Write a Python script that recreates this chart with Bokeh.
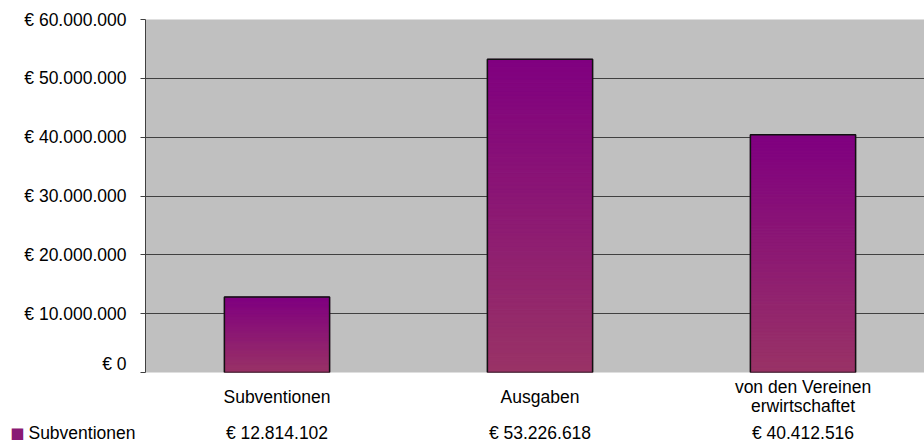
from bokeh.plotting import figure
from bokeh.models import ColumnDataSource, Range1d, FixedTicker, LinearAxis
from bokeh.layouts import column
from bokeh.core.properties import value
from bokeh.embed import file_html
from bokeh.resources import INLINE

# ---- data ----
categories = ["Subventionen", "Ausgaben", "von den Vereinen\nerwirtschaftet"]
values = [12814102, 53226618, 40412516]
series_name = "Subventionen"
y_ticks = [0, 10000000, 20000000, 30000000, 40000000, 50000000, 60000000]
y_tick_labels = ["€ 0", "€ 10.000.000", "€ 20.000.000", "€ 30.000.000",
                 "€ 40.000.000", "€ 50.000.000", "€ 60.000.000"]

FONT = "Liberation Sans"
FS = "17.5px"
TOP_RGB = (128, 0, 128)      # purple
BOT_RGB = (153, 51, 102)     # plum
KEY_COLOR = "#8a1a74"

def fmt_eur(v):
    return "€ " + f"{v:,}".replace(",", ".")

# layout (page pixels)
W = 924
FRAME_L, FRAME_T, FRAME_B = 145, 19, 372
CAT_W = 263
H1 = FRAME_B + 1
H2 = 443 - H1

xs = [i + 0.5 for i in range(len(categories))]

p = figure(width=W, height=H1, output_backend="svg", toolbar_location=None,
           x_range=Range1d(0, (W - FRAME_L) / CAT_W), y_range=Range1d(y_ticks[0], y_ticks[-1]),
           x_axis_location=None, min_border_left=FRAME_L, min_border_right=0,
           min_border_top=FRAME_T, min_border_bottom=1)
p.background_fill_color = "#C0C0C0"
p.border_fill_color = "white"
p.outline_line_color = None

# gradient bars built from thin slices
n = 80
sx, sb, st, sc = [], [], [], []
for x, v in zip(xs, values):
    for j in range(n):
        t = (j + 0.5) / n
        r = round(BOT_RGB[0] + (TOP_RGB[0] - BOT_RGB[0]) * t)
        g = round(BOT_RGB[1] + (TOP_RGB[1] - BOT_RGB[1]) * t)
        b = round(BOT_RGB[2] + (TOP_RGB[2] - BOT_RGB[2]) * t)
        sx.append(x)
        sb.append(v * j / n)
        st.append(v * (j + 1) / n)
        sc.append(f"#{r:02x}{g:02x}{b:02x}")
slices = ColumnDataSource(dict(x=sx, bottom=sb, top=st, color=sc))
p.vbar(x="x", bottom="bottom", top="top", width=0.4, source=slices,
       fill_color="color", line_color="color", line_width=1)

bars = ColumnDataSource(dict(x=xs, top=values))
p.vbar(x="x", top="top", width=0.4, source=bars, fill_color=None,
       line_color="#111111", line_width=1.5)

# y axis
p.yaxis.ticker = FixedTicker(ticks=y_ticks)
p.yaxis.major_label_overrides = {t: l for t, l in zip(y_ticks, y_tick_labels)}
p.yaxis.major_label_text_font = FONT
p.yaxis.major_label_text_font_size = FS
p.yaxis.major_label_text_color = "black"
p.yaxis.major_tick_out = 5
p.yaxis.major_tick_in = 0
p.yaxis.minor_tick_line_color = None
p.yaxis.major_label_standoff = 14
p.yaxis.axis_line_color = "#404040"
p.yaxis.major_tick_line_color = "#404040"

p.ygrid.ticker = FixedTicker(ticks=y_ticks)
p.ygrid.grid_line_color = "#404040"
p.ygrid.grid_line_width = 1
p.xgrid.grid_line_color = None

# ---- data-table row below the plot (second figure sharing the x scale) ----
p2 = figure(width=W, height=H2, output_backend="svg", toolbar_location=None,
            x_range=p.x_range, y_range=Range1d(H2, 0),
            x_axis_location=None, y_axis_location=None,
            min_border_left=FRAME_L, min_border_right=0, min_border_top=0, min_border_bottom=0)
p2.outline_line_color = None
p2.background_fill_color = "white"
p2.border_fill_color = "white"
p2.grid.visible = False

CAT_Y = 396 - H1
VAL_Y = 432 - H1
lab = ColumnDataSource(dict(x=xs, cat=categories, val=[fmt_eur(v) for v in values],
                            ycat=[CAT_Y] * len(xs), yval=[VAL_Y] * len(xs)))
p2.text(x="x", y="ycat", text="cat", source=lab, text_align="center",
        text_baseline="middle", text_font=value(FONT), text_font_size=FS,
        text_color="black", text_line_height=0.95)
p2.text(x="x", y="yval", text="val", source=lab, text_align="center",
        text_baseline="middle", text_font=value(FONT), text_font_size=FS,
        text_color="black")

# series name (row header) and its key in the left margin of the table row
def row_axis(label, font, size, color, standoff):
    ax = LinearAxis(ticker=FixedTicker(ticks=[VAL_Y]),
                    major_label_overrides={VAL_Y: label},
                    major_label_text_font=font, major_label_text_font_size=size,
                    major_label_text_color=color, major_label_standoff=standoff,
                    major_tick_out=0, major_tick_in=0, minor_tick_out=0, minor_tick_in=0,
                    axis_line_color=None, major_tick_line_color=None,
                    minor_tick_line_color=None)
    p2.add_layout(ax, "left")
    return ax

row_axis(series_name, FONT, FS, "black", 10)
row_axis("■", "DejaVu Sans", "15px", KEY_COLOR, 1)

layout = column(p, p2, spacing=0)
open("out.html", "w").write(file_html(layout, INLINE))
